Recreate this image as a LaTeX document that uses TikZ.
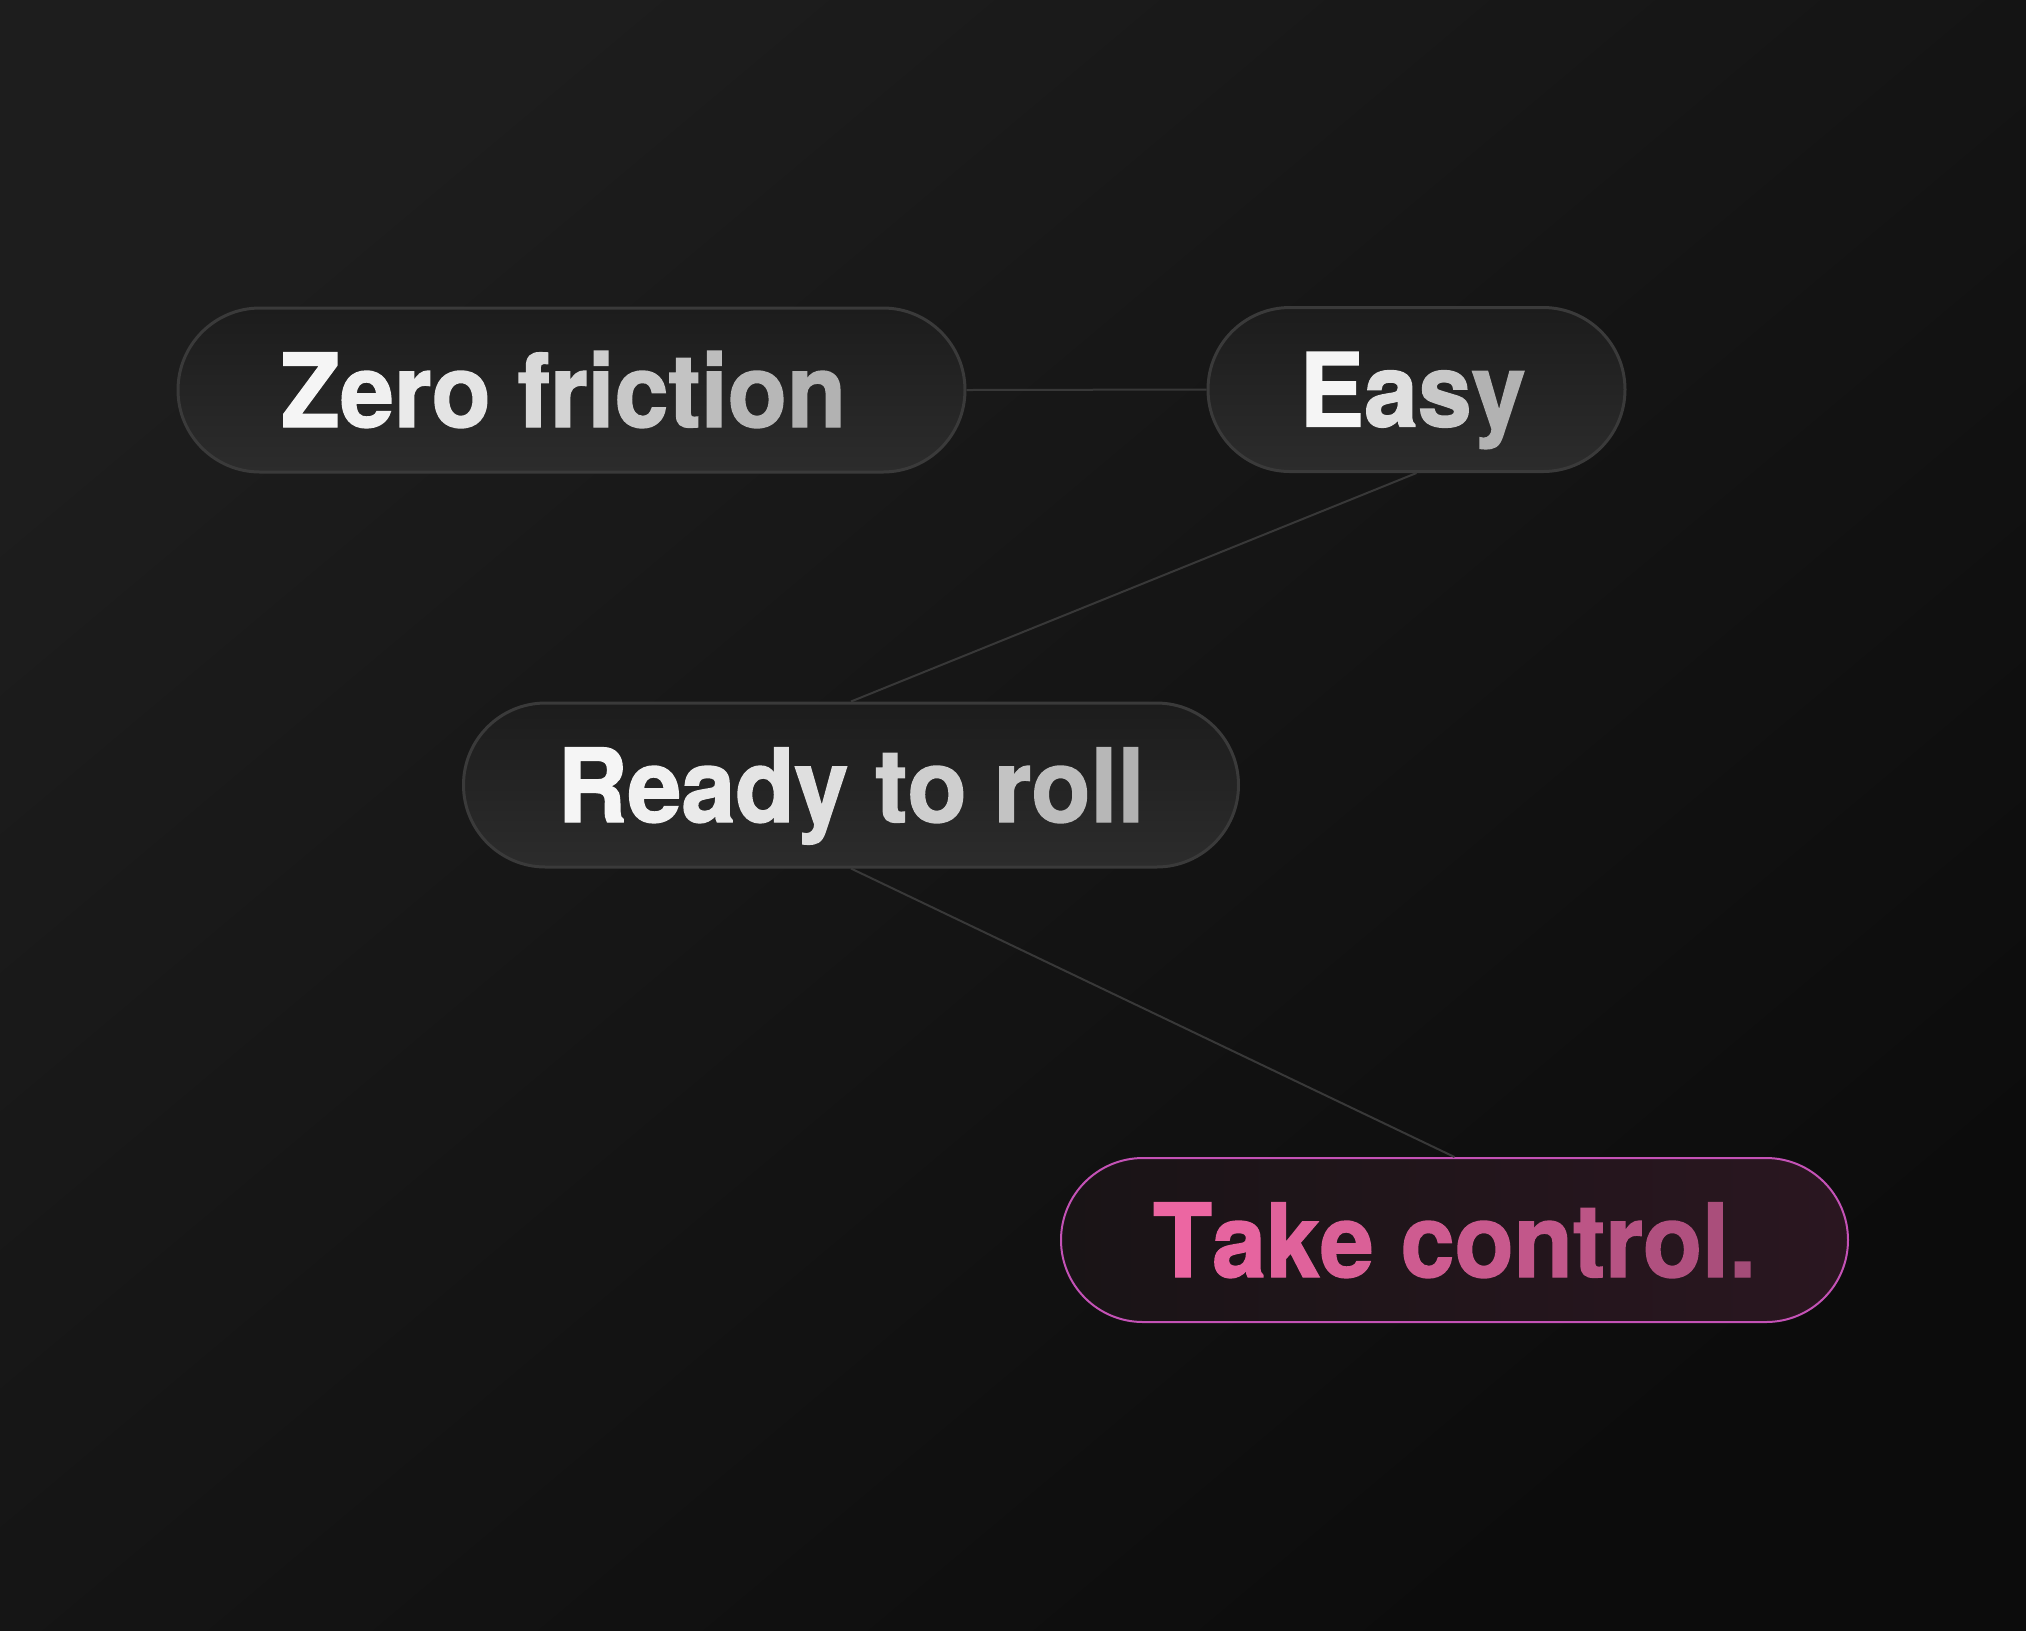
\documentclass[tikz,border=0pt]{standalone}
\usepackage{fontspec}
\setmainfont[FakeStretch=0.95, BoldFeatures={FakeBold=1.4}]{TeX Gyre Heros}
\definecolor{bgA}{HTML}{1D1D1D}
\definecolor{bgB}{HTML}{0C0C0C}
\definecolor{pillline}{HTML}{3A3A3A}
\definecolor{pilltop}{HTML}{1C1C1C}
\definecolor{pillbot}{HTML}{2C2C2C}
\definecolor{linkc}{HTML}{383838}
\definecolor{txtA}{HTML}{F5F5F5}
\definecolor{txtB}{HTML}{B2B2B2}
\definecolor{pinkline}{HTML}{C452B6}
\definecolor{pinkL}{HTML}{191416}
\definecolor{pinkR}{HTML}{2A1620}
\definecolor{ptxtA}{HTML}{EC66A2}
\definecolor{ptxtB}{HTML}{A44C78}
\ExplSyntaxOn
\int_new:N \l__gt_i_int
\int_new:N \l__gt_n_int
\cs_new_protected:Npn \gradtext #1#2#3
  {
    \int_set:Nn \l__gt_n_int { \str_count:n {#3} - 1 }
    \int_zero:N \l__gt_i_int
    \str_map_inline:nn {#3}
      {
        \exp_args:Nx \color { #2 ! \int_eval:n { 100 * \l__gt_i_int / \l__gt_n_int } ! #1 }
        \relax ##1
        \int_incr:N \l__gt_i_int
      }
  }
\ExplSyntaxOff
\tikzset{
  pill/.style={draw=pillline, line width=1.5pt, rounded corners=41pt,
    top color=pilltop, bottom color=pillbot, minimum height=82pt,
    inner sep=0pt, text height=37pt, text depth=0pt,
    font=\fontsize{51}{51}\selectfont\bfseries},
  pinkpill/.style={pill, draw=pinkline, line width=1pt,
    left color=pinkL, right color=pinkR},
  link/.style={draw=linkc, line width=1pt},
}
\begin{document}
\begin{tikzpicture}[x=0.5pt,y=-0.5pt]
\useasboundingbox (0,0) rectangle (2026,1630);
\shade[top color=bgA, bottom color=bgB, shading angle=40] (0,0) rectangle (2026,1630);
\node[pill, minimum width=393.5pt] (zero) at (571.5,390) {\gradtext{txtA}{txtB}{Zero friction}\kern8pt};
\node[pill, minimum width=208.5pt] (easy) at (1416.5,389.5) {\gradtext{txtA}{txtB}{Easy}\kern4pt};
\node[pill, minimum width=387.5pt] (ready) at (851,785) {\gradtext{txtA}{txtB}{Ready to roll}};
\node[pinkpill, minimum width=393.5pt] (take) at (1454.5,1240) {\gradtext{ptxtA}{ptxtB}{Take control.}};
\draw[link] (zero.east) -- (easy.west);
\draw[link] (easy.south) -- (ready.north);
\draw[link] (ready.south) -- (take.north);
\end{tikzpicture}
\end{document}
